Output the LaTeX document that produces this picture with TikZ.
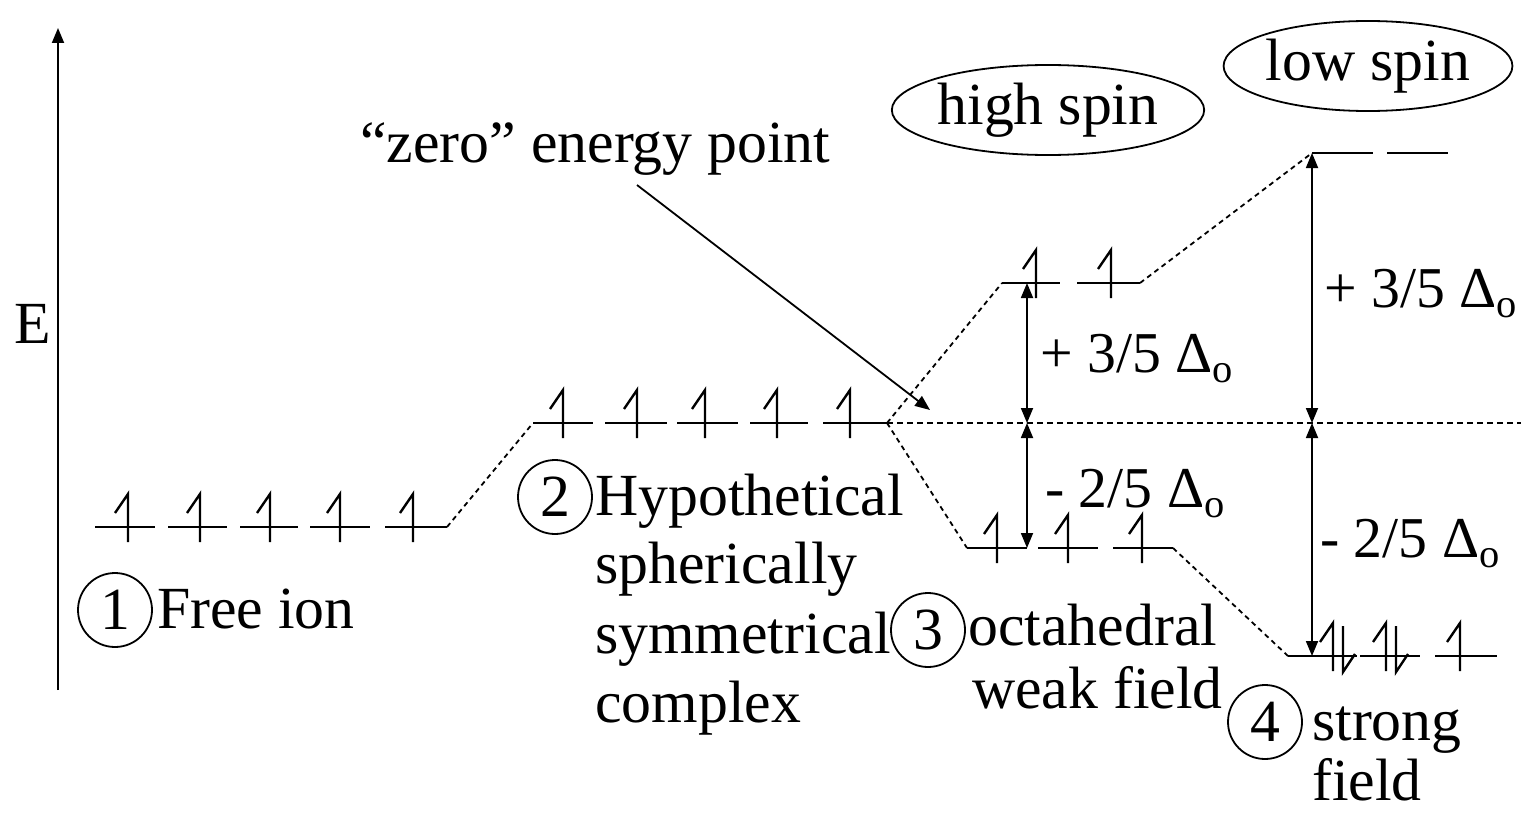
\documentclass[tikz,border=0pt]{standalone}
\usepackage{fontspec}
\setmainfont{Liberation Serif}
\usetikzlibrary{arrows.meta,shapes.geometric}
\newcommand\ElUp[2]{\draw[eln] (#1,#2+15) -- (#1,#2-33) -- (#1-13,#2-14);}
\newcommand\ElDn[2]{\draw[eln] (#1,#2-30) -- (#1,#2+16) -- (#1+12,#2-2);}
\newcommand\Lvl[3]{\draw[lvl] (#1,#3) -- (#2,#3);}
\newcommand\Dlt{Δ\textsubscript{o}}
\begin{document}
\begin{tikzpicture}[x=1bp,y=-1bp,
  lvl/.style={line width=2.6bp},
  eln/.style={line width=2.4bp},
  conn/.style={line width=1.8bp, dash pattern=on 5bp off 4bp},
  zline/.style={line width=2bp, dash pattern=on 6bp off 4bp},
  gap/.style={line width=1.8bp, {Triangle[length=15bp,width=12bp]}-{Triangle[length=15bp,width=12bp]}},
  onearrow/.style={line width=1.8bp, -{Triangle[length=15bp,width=12bp]}},
  lbl/.style={font=\fontsize{60}{72}\selectfont, inner sep=0pt},
  dlbl/.style={font=\fontsize{58}{70}\selectfont, inner sep=0pt},
  num/.style={circle, draw, line width=1.8bp, inner sep=0pt, minimum size=74bp, font=\fontsize{60}{72}\selectfont},
  spin/.style={ellipse, draw, line width=1.8bp, inner sep=0pt, minimum width=272bp, minimum height=90bp, font=\fontsize{60}{72}\selectfont},
]
\useasboundingbox (0,0) rectangle (1521,813);

% energy axis
\coordinate (axB) at (58,690);
\coordinate (axT) at (58,28);
\draw[onearrow] (axB) -- (axT);
\node[lbl, anchor=base west] (E) at (14,343) {E};

% 1 free ion
\Lvl{95}{155}{527}\Lvl{168}{227}{527}\Lvl{240}{298}{527}\Lvl{310}{370}{527}\Lvl{385}{447}{527}
\ElUp{128}{527}\ElUp{200}{527}\ElUp{270}{527}\ElUp{340}{527}\ElUp{413}{527}
\coordinate (fiR) at (447,527);

% 2 hypothetical
\Lvl{533}{593}{423}\Lvl{605}{667}{423}\Lvl{677}{738}{423}\Lvl{750}{808}{423}\Lvl{823}{887}{423}
\ElUp{563}{423}\ElUp{637}{423}\ElUp{705}{423}\ElUp{777}{423}\ElUp{850}{423}
\coordinate (hyL) at (533,423);
\coordinate (hyR) at (887,423);
\coordinate (zR) at (1521,423);

% 3 weak field
\Lvl{1002}{1060}{283}\Lvl{1077}{1140}{283}
\ElUp{1036}{283}\ElUp{1111}{283}
\Lvl{967}{1027}{548}\Lvl{1038}{1098}{548}\Lvl{1113}{1173}{548}
\ElUp{997}{548}\ElUp{1068}{548}\ElUp{1142}{548}
\coordinate (weL) at (1002,283);
\coordinate (weR) at (1140,283);
\coordinate (wtL) at (967,548);
\coordinate (wtR) at (1173,548);

% 4 strong field
\Lvl{1312}{1373}{153}\Lvl{1387}{1448}{153}
\Lvl{1288}{1357}{656}\Lvl{1360}{1420}{656}\Lvl{1435}{1497}{656}
\ElUp{1333}{656}\ElDn{1343}{656}\ElUp{1386}{656}\ElDn{1396}{656}\ElUp{1460}{656}
\coordinate (seL) at (1312,153);
\coordinate (stL) at (1288,656);

% dashed connectors
\draw[conn] (fiR) -- (hyL);
\draw[conn] (hyR) -- (weL);
\draw[conn] (hyR) -- (wtL);
\draw[conn] (weR) -- (seL);
\draw[conn] (wtR) -- (stL);
\draw[zline] (hyR) -- (zR);

% splitting arrows
\coordinate (wA) at (1027,283);
\coordinate (wZ) at (1027,423);
\coordinate (wB) at (1027,548);
\coordinate (sA) at (1312,153);
\coordinate (sZ) at (1312,423);
\coordinate (sB) at (1312,656);
\draw[gap] (wA) -- (wZ);
\draw[gap] (wZ) -- (wB);
\draw[gap] (sA) -- (sZ);
\draw[gap] (sZ) -- (sB);

\node[dlbl, anchor=base west] (w35) at (1040,372) {+ 3/5 \Dlt};
\node[dlbl, anchor=base west] (w25) at (1045,507) {- 2/5 \Dlt};
\node[dlbl, anchor=base west] (s35) at (1324,307) {+ 3/5 \Dlt};
\node[dlbl, anchor=base west] (s25) at (1320,557) {- 2/5 \Dlt};

% zero energy point
\node[lbl, anchor=base west] (zero) at (360,162) {“zero” energy point};
\coordinate (zS) at (637,185);
\coordinate (zT) at (930,410);
\draw[onearrow] (zS) -- (zT);

% spin labels
\node[spin] (hs) at (1048,110) {high spin};
\node[spin] (ls) at (1368,66) {low spin};

% stage labels
\node[num] (c1) at (115,610) {1};
\node[lbl, anchor=base west] (t1) at (157,628) {Free ion};

\node[num] (c2) at (555,497) {2};
\node[lbl, anchor=base west] (t2a) at (595,515) {Hypothetical};
\node[lbl, anchor=base west] (t2b) at (595,583) {spherically};
\node[lbl, anchor=base west] (t2c) at (595,653) {symmetrical};
\node[lbl, anchor=base west] (t2d) at (595,722) {complex};

\node[num] (c3) at (928,630) {3};
\node[lbl, anchor=base west] (t3a) at (968,645) {octahedral};
\node[lbl, anchor=base west] (t3b) at (972,708) {weak field};

\node[num] (c4) at (1265,722) {4};
\node[lbl, anchor=base west] (t4a) at (1312,740) {strong};
\node[lbl, anchor=base west] (t4b) at (1312,800) {field};
\end{tikzpicture}
\end{document}
